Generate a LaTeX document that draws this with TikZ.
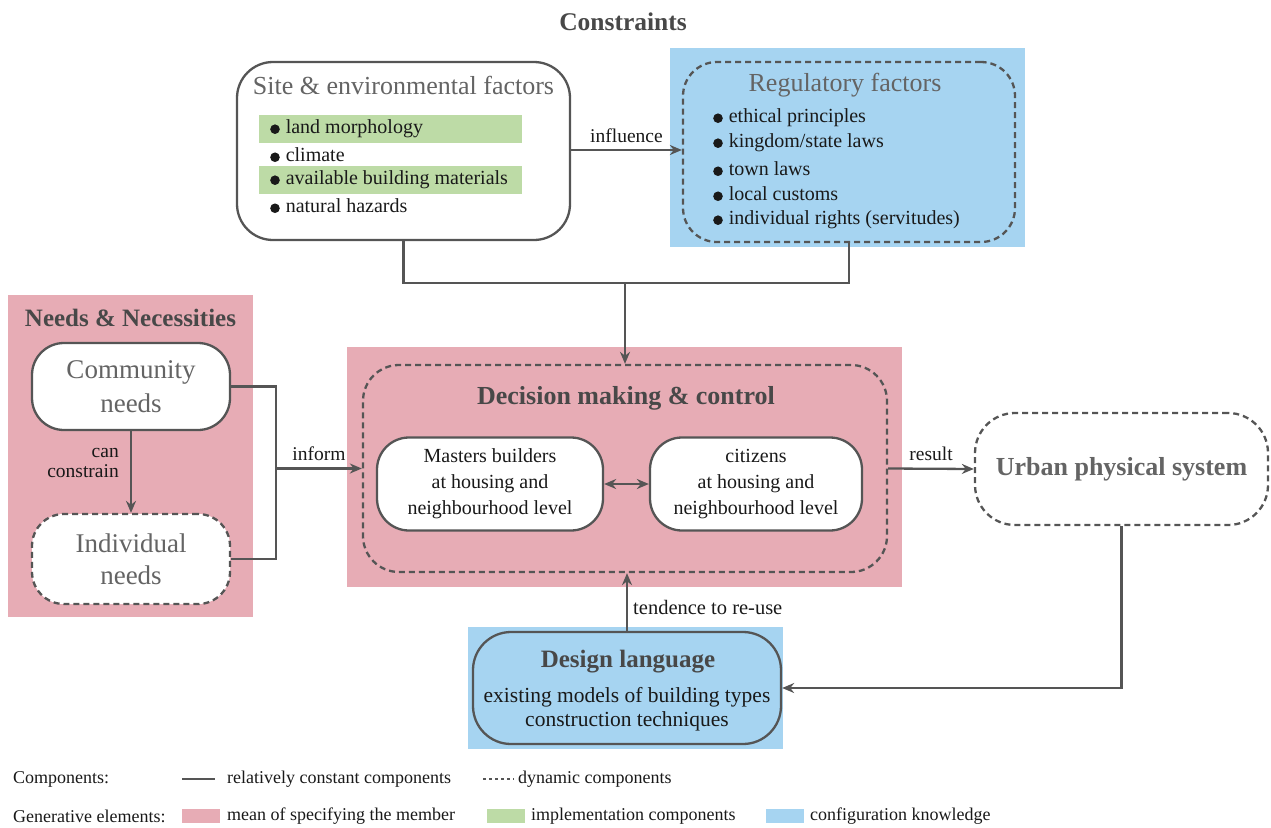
\documentclass[tikz,border=0pt]{standalone}
\usepackage{fontspec}
\setmainfont{Liberation Serif}
\usetikzlibrary{arrows.meta,calc}
\definecolor{linegray}{RGB}{85,85,85}
\definecolor{titlegray}{RGB}{100,100,100}
\definecolor{darktitle}{RGB}{72,72,72}
\definecolor{bodyink}{RGB}{25,25,25}
\definecolor{pinkbg}{RGB}{231,172,181}
\definecolor{bluebg}{RGB}{166,212,241}
\definecolor{greenbg}{RGB}{189,219,166}
\newcommand{\fs}[1]{\fontsize{#1}{#1}\selectfont}
\newcommand{\fsl}[2]{\fontsize{#1}{#2}\selectfont}
% round list bullet
\newcommand{\blt}{\raisebox{-0.2pt}{\tikz\fill[bodyink] (0,0) circle (4.8pt);}\hspace{6pt}}
\begin{document}
\begin{tikzpicture}[x=1pt,y=-1pt,
  conn/.style={draw=linegray,line width=2.3pt},
  arr/.style={conn,-{Stealth[length=12pt,width=10pt]}},
  darr/.style={conn,{Stealth[length=12pt,width=10pt]}-{Stealth[length=12pt,width=10pt]}},
  solidbox/.style={draw=linegray,line width=2.3pt,fill=white,inner sep=0pt},
  dashbox/.style={draw=linegray,line width=2.3pt,dash pattern=on 6pt off 4pt,inner sep=0pt},
  bgpanel/.style={draw=none,inner sep=0pt},
  item/.style={anchor=west,inner sep=0pt,text=bodyink,font=\fs{20}},
  lbl/.style={inner sep=0pt,text=bodyink,font=\fs{19.5}},
  legtext/.style={anchor=west,inner sep=0pt,text=bodyink,font=\fs{18}},
]
\useasboundingbox (0,0) rectangle (1271,827);

% ---------------- Constraints ----------------
\node[inner sep=0pt,text=darktitle,font=\fs{25.5}\bfseries] (constr) at (623,22) {Constraints};

% Site & environmental factors
\node[solidbox,rounded corners=36pt,minimum width=333pt,minimum height=178pt] (site) at (403.5,151) {};
\node[inner sep=0pt,text=titlegray,font=\fs{26}] (sitet) at (403.5,85) {Site \& environmental factors};
\node[bgpanel,fill=greenbg,minimum width=263pt,minimum height=28pt] (g1) at (390.5,129) {};
\node[bgpanel,fill=greenbg,minimum width=263pt,minimum height=28pt] (g2) at (390.5,180) {};
\node[item] (s1) at (270,129) {\blt land morphology};
\node[item] (s2) at (270,155) {\blt climate};
\node[item] (s3) at (270,180) {\blt available building materials};
\node[item] (s4) at (270,206) {\blt natural hazards};

% Regulatory factors
\node[bgpanel,fill=bluebg,minimum width=355pt,minimum height=199pt] (regbg) at (847.5,147.5) {};
\node[dashbox,rounded corners=34pt,minimum width=332pt,minimum height=180pt] (reg) at (849,152) {};
\node[inner sep=0pt,text=titlegray,font=\fs{26}] (regt) at (845,85) {Regulatory factors};
\node[item] (r1) at (713,118) {\blt ethical principles};
\node[item] (r2) at (713,143) {\blt kingdom/state laws};
\node[item] (r3) at (713,169) {\blt town laws};
\node[item] (r4) at (713,194) {\blt local customs};
\node[item] (r5) at (713,220) {\blt individual rights (servitudes)};

\draw[arr] (site.east |- 0,150) -- (reg.west |- 0,150)
  node[lbl,midway,above=6pt] (infl) {influence};

% ---------------- Needs & Necessities ----------------
\node[bgpanel,fill=pinkbg,minimum width=245pt,minimum height=322pt] (needsbg) at (130.5,456) {};
\node[inner sep=0pt,text=darktitle,font=\fs{25}\bfseries] (needst) at (130.5,318) {Needs \& Necessities};
\node[solidbox,rounded corners=32pt,minimum width=198pt,minimum height=87pt,
      align=center,text=titlegray,font=\fsl{27}{34}] (comm) at (131,386.5) {Community\\needs};
\node[dashbox,fill=white,rounded corners=32pt,minimum width=198pt,minimum height=90pt,
      align=center,text=titlegray,font=\fsl{27}{32}] (indiv) at (131,559) {Individual\\needs};
\draw[arr] (comm.south) -- (indiv.north);
\node[lbl,anchor=east,align=right,font=\fsl{19.5}{20}] (canc) at (119,463) {can\\constrain};

% ---------------- Decision making & control ----------------
\node[bgpanel,fill=pinkbg,minimum width=555pt,minimum height=240pt] (decbg) at (624.5,467) {};
\node[dashbox,rounded corners=36pt,minimum width=524pt,minimum height=207pt] (dec) at (625,468.5) {};
\node[inner sep=0pt,text=darktitle,font=\fs{26}\bfseries] (dect) at (626,398) {Decision making \& control};
\node[solidbox,rounded corners=32pt,minimum width=226pt,minimum height=93pt,
      align=center,text=bodyink,font=\fsl{20}{26}] (mast) at (490,484)
      {Masters builders\\at housing and\\neighbourhood level};
\node[solidbox,rounded corners=32pt,minimum width=212pt,minimum height=93pt,
      align=center,text=bodyink,font=\fsl{20}{26}] (citz) at (756,484)
      {citizens\\at housing and\\neighbourhood level};
\draw[darr] (mast.east) -- (citz.west);

% constraints feed decision making
\coordinate (merge) at (625,283);
\draw[conn] (site.south) |- (merge) -| (reg.south);
\draw[arr] (merge) -- (dec.north);

% needs inform decision making
\coordinate (bus) at (276,468.5);
\draw[conn] (comm.east) -| (bus) |- (indiv.east);
\draw[arr] (bus) -- (dec.west) node[lbl,midway,above=7pt] (inform) {inform};

% ---------------- Urban physical system ----------------
\node[dashbox,rounded corners=40pt,minimum width=293pt,minimum height=112pt,
      text=titlegray,font=\fs{26}\bfseries] (urban) at (1121.5,469) {Urban physical system};
\draw[arr] (dec.east) -- (urban.west) node[lbl,midway,above=7pt] (res) {result};

% ---------------- Design language ----------------
\node[bgpanel,fill=bluebg,minimum width=315pt,minimum height=122pt] (desbg) at (625.5,687.5) {};
\node[draw=linegray,line width=2.3pt,inner sep=0pt,rounded corners=38pt,
      minimum width=308pt,minimum height=112pt] (design) at (627,688) {};
\node[inner sep=0pt,text=darktitle,font=\fs{25}\bfseries] (dest) at (628,662) {Design language};
\node[inner sep=0pt,text=bodyink,font=\fs{21.5}] (des1) at (627,697) {existing models of building types};
\node[inner sep=0pt,text=bodyink,font=\fs{21.5}] (des2) at (627,721) {construction techniques};
\draw[arr] (design.north) -- (design.north |- dec.south);
\node[lbl,anchor=west,font=\fs{20.5}] (reuse) at (633,607) {tendence to re-use};
\draw[arr] (urban.south) |- (design.east);

% ---------------- Legend ----------------
\node[legtext] (lcomp) at (13,779) {Components:};
\coordinate (ls1) at (182,779);
\coordinate (ls2) at (215,779);
\draw[conn] (ls1) -- (ls2);
\node[legtext] (lconst) at (227,779) {relatively constant components};
\coordinate (ld1) at (483,779);
\coordinate (ld2) at (514,779);
\draw[draw=linegray,line width=1.8pt,dash pattern=on 3pt off 3pt] (ld1) -- (ld2);
\node[legtext] (ldyn) at (518,779) {dynamic components};

\node[legtext] (lgen) at (13,816) {Generative elements:};
\node[bgpanel,fill=pinkbg,minimum width=38pt,minimum height=14pt] (swp) at (201,816) {};
\node[legtext] (lmean) at (227,816) {mean of specifying the member};
\node[bgpanel,fill=greenbg,minimum width=38pt,minimum height=14pt] (swg) at (506,816) {};
\node[legtext] (limpl) at (531,816) {implementation components};
\node[bgpanel,fill=bluebg,minimum width=38pt,minimum height=14pt] (swb) at (785,816) {};
\node[legtext] (lconf) at (810,816) {configuration knowledge};
\end{tikzpicture}
\end{document}
